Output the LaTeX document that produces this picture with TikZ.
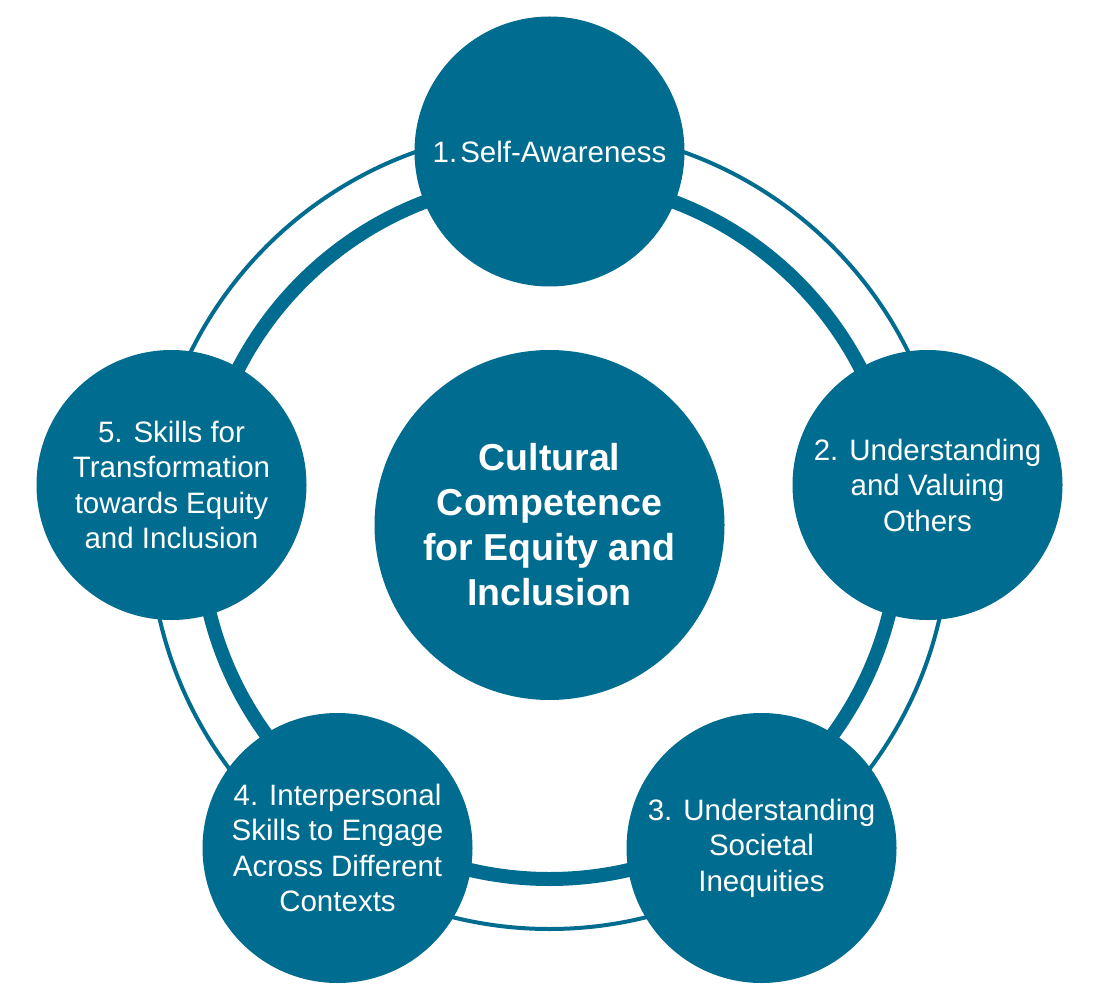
\documentclass[tikz,border=0pt]{standalone}
\usepackage{fontspec}
\setmainfont{Liberation Sans}
\definecolor{compblue}{RGB}{0,108,143}

\begin{document}
\begin{tikzpicture}[x=1pt, y=-1pt,
    stage/.style={circle, fill=compblue, text=white, minimum size=270pt, inner sep=0pt,
        align=center, font=\fontsize{29.5}{35.5}\selectfont},
    core/.style={circle, fill=compblue, text=white, minimum size=350pt, inner sep=0pt,
        align=center, font=\fontsize{37.5}{45}\selectfont\bfseries},
    thinring/.style={draw=compblue, line width=4pt},
    thickring/.style={draw=compblue, line width=14pt}]
    \useasboundingbox (0,0) rectangle (1100,1000);

    % Centro
    \node[core] (core) at (549.5,525) {Cultural\\Competence\\for Equity and\\Inclusion};

    % Anelli
    \draw[thinring] (549.5,529) circle[radius=400pt];
    \draw[thickring] (549.5,529) circle[radius=350pt];

    % Cerchi esterni
    \node[stage] (self) at (549.5,151.5) {1.\kern3pt Self-Awareness};
    \node[stage] (others) at (927.5,485) {2. Understanding\\and Valuing\\Others};
    \node[stage] (societal) at (761.5,848) {3. Understanding\\Societal\\Inequities};
    \node[stage] (interp) at (337.5,848) {4. Interpersonal\\Skills to Engage\\Across Different\\Contexts};
    \node[stage] (transf) at (171.5,485) {5. Skills for\\Transformation\\towards Equity\\and Inclusion};
\end{tikzpicture}
\end{document}
